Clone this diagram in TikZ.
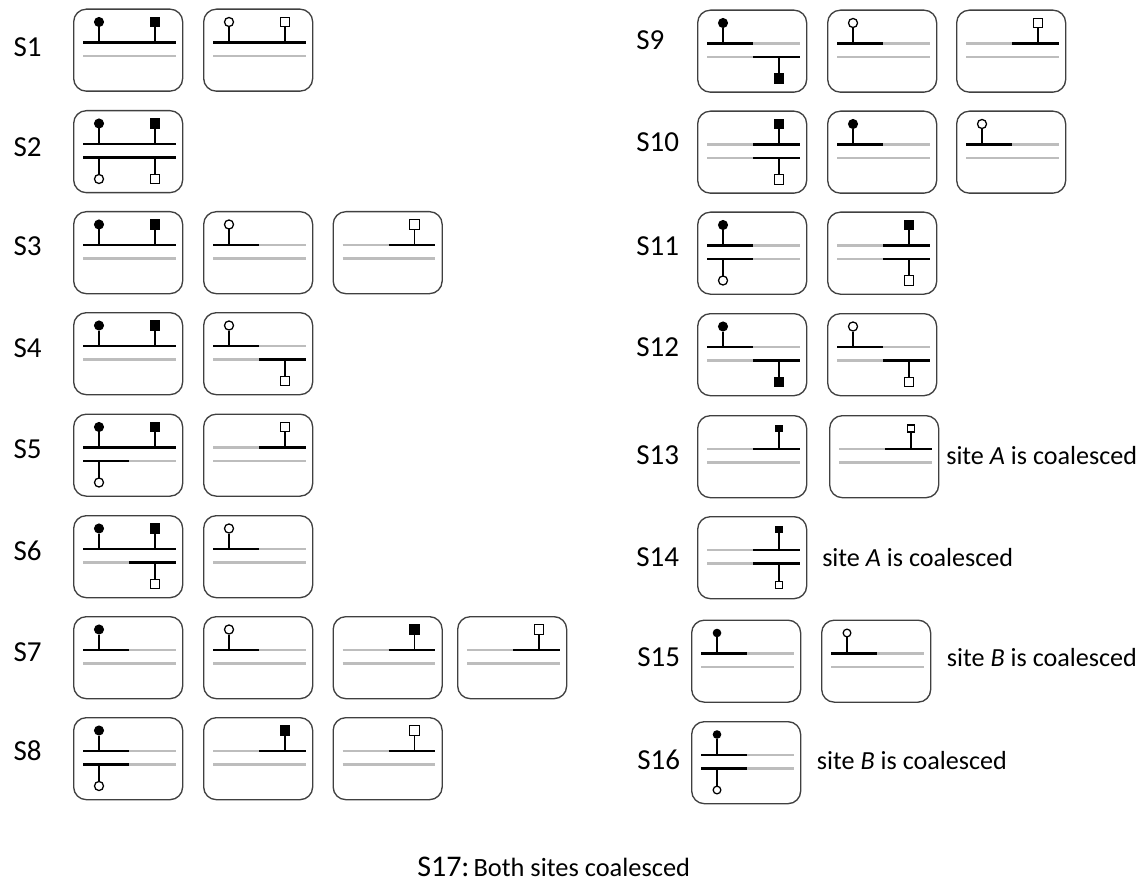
\documentclass[tikz,border=0pt]{standalone}
\usepackage{fontspec}
\setmainfont{Carlito}
\definecolor{boxgray}{HTML}{404040}
\definecolor{chrgray}{HTML}{BDBDBD}

% vertical levels of the two chromosome lines inside a cell
\newcommand\ya{34}
\newcommand\yb{47.5}
% marker size factor
\newcommand\msz{1}

% chromosome lines: full black, full grey, black left half, black right half
\newcommand\chrB[1]{\draw[blk] (10,#1) -- (102.5,#1);}
\newcommand\chrG[1]{\draw[gry] (10,#1) -- (102.5,#1);}
\newcommand\chrL[1]{\draw[gry] (56,#1) -- (102.5,#1); \draw[blk] (10,#1) -- (56,#1);}
\newcommand\chrR[1]{\draw[gry] (10,#1) -- (56,#1); \draw[blk] (56,#1) -- (102.5,#1);}

% marker glyphs
\newcommand\fcirc[2]{\fill[black] (#1,#2) circle[radius=3.8pt*\msz];}
\newcommand\ocirc[2]{\draw[black, line width=0.95pt, fill=white] (#1,#2) circle[radius=3.4pt*\msz];}
\newcommand\fsq[2]{\fill[black] ({#1-5.3*\msz},{#2-5.3*\msz}) rectangle ({#1+5.3*\msz},{#2+5.3*\msz});}
\newcommand\osq[2]{\draw[black, line width=0.95pt, fill=white] ({#1-4.8*\msz},{#2-4.8*\msz}) rectangle ({#1+4.8*\msz},{#2+4.8*\msz});}
% stems from a marker to its chromosome line
\newcommand\stT[1]{\draw[stemline] (#1,{13.5+5*\msz}) -- (#1,\ya);}
\newcommand\stB[1]{\draw[stemline] (#1,\yb) -- (#1,{69-5*\msz});}

% site A (circles) and site B (squares), above the top line or below the bottom line
\newcommand\tFC{\stT{26}\fcirc{26}{13.5}}
\newcommand\tOC{\stT{26}\ocirc{26}{13.5}}
\newcommand\tFS{\stT{82}\fsq{82}{13.5}}
\newcommand\tOS{\stT{82}\osq{82}{13.5}}
\newcommand\bOC{\stB{26}\ocirc{26}{69}}
\newcommand\bFS{\stB{82}\fsq{82}{69}}
\newcommand\bOS{\stB{82}\osq{82}{69}}

% one cell: name, top-left corner, contents
\newcommand\cell[3]{%
  \node[cellbox] (#1) at (#2) {};
  \begin{scope}[shift={(#1.north west)}]#3\end{scope}}

\tikzset{
  cellbox/.style={draw=boxgray, line width=1pt, rounded corners=9.5pt,
    minimum width=81.75pt, minimum height=61.5pt, inner sep=0pt, anchor=north west},
  blk/.style={draw=black, line width=2.1pt},
  gry/.style={draw=chrgray, line width=2pt},
  stemline/.style={draw=black, line width=1.15pt},
  lab/.style={font=\fontsize{21.75}{24}\selectfont, anchor=base west, inner sep=0pt},
  note/.style={font=\fontsize{19.6}{22}\selectfont, anchor=base west, inner sep=0pt},
}

\begin{document}
\begin{tikzpicture}[x=0.75pt, y=-0.75pt]
\path[use as bounding box] (0,0) rectangle (1148,884);

% ---- left column ----
\node[lab] (l1) at (13.3,56.7) {S1};
\cell{s1a}{73,8.5}{\chrB\ya \chrG\yb \tFC \tFS}
\cell{s1b}{203,8.5}{\chrB\ya \chrG\yb \tOC \tOS}

\node[lab] (l2) at (13.3,157) {S2};
\cell{s2a}{73,110}{\chrB\ya \chrB\yb \tFC \tFS \bOC \bOS}

\node[lab] (l3) at (13.3,255) {S3};
\cell{s3a}{73,211}{\chrB\ya \chrG\yb \tFC \tFS}
\cell{s3b}{203,211}{\chrL\ya \chrG\yb \tOC}
\cell{s3c}{332.5,211}{\chrR\ya \chrG\yb \tOS}

\node[lab] (l4) at (13.3,357) {S4};
\cell{s4a}{73,312}{\chrB\ya \chrG\yb \tFC \tFS}
\cell{s4b}{203,312}{\chrL\ya \chrR\yb \tOC \bOS}

\node[lab] (l5) at (13.3,458.5) {S5};
\cell{s5a}{73,413.5}{\chrB\ya \chrL\yb \tFC \tFS \bOC}
\cell{s5b}{203,413.5}{\chrR\ya \chrG\yb \tOS}

\node[lab] (l6) at (13.3,560) {S6};
\cell{s6a}{73,515}{\chrB\ya \chrR\yb \tFC \tFS \bOS}
\cell{s6b}{203,515}{\chrL\ya \chrG\yb \tOC}

\node[lab] (l7) at (13.3,661.5) {S7};
\cell{s7a}{73,616}{\chrL\ya \chrG\yb \tFC}
\cell{s7b}{203,616}{\chrL\ya \chrG\yb \tOC}
\cell{s7c}{332.5,616}{\chrR\ya \chrG\yb \tFS}
\cell{s7d}{457,616}{\chrR\ya \chrG\yb \tOS}

\node[lab] (l8) at (13.3,760) {S8};
\cell{s8a}{73,717}{\chrL\ya \chrL\yb \tFC \bOC}
\cell{s8b}{203,717}{\chrR\ya \chrG\yb \tFS}
\cell{s8c}{332.5,717}{\chrR\ya \chrG\yb \tOS}

% ---- right column ----
\node[lab] (l9) at (636,50) {S9};
\cell{s9a}{697,9.5}{\chrL\ya \chrR\yb \tFC \bFS}
\cell{s9b}{827,9.5}{\chrL\ya \chrG\yb \tOC}
\cell{s9c}{956,9.5}{\chrR\ya \chrG\yb \tOS}

\node[lab] (l10) at (636,151.5) {S10};
\cell{s10a}{697,110.5}{\chrR\ya \chrR\yb \tFS \bOS}
\cell{s10b}{827,110.5}{\chrL\ya \chrG\yb \tFC}
\cell{s10c}{956,110.5}{\chrL\ya \chrG\yb \tOC}

\node[lab] (l11) at (636,255) {S11};
\cell{s11a}{697,211.5}{\chrL\ya \chrL\yb \tFC \bOC}
\cell{s11b}{827,211.5}{\chrR\ya \chrR\yb \tFS \bOS}

\node[lab] (l12) at (636,356.5) {S12};
\cell{s12a}{697,313}{\chrL\ya \chrR\yb \tFC \bFS}
\cell{s12b}{827,313}{\chrL\ya \chrR\yb \tOC \bOS}

\node[lab] (l13) at (636,464) {S13};
\cell{s13a}{697,415}{\renewcommand\msz{0.75}\chrR\ya \chrG\yb \tFS}
\cell{s13b}{829,415}{\renewcommand\msz{0.75}\chrR\ya \chrG\yb \tOS}
\node[note] (n13) at (946,464) {site \textit{A} is coalesced};

\node[lab] (l14) at (636,566) {S14};
\cell{s14a}{697,516}{\renewcommand\msz{0.75}\chrR\ya \chrR\yb \tFS \bOS}
\node[note] (n14) at (822,566) {site \textit{A} is coalesced};

\node[lab] (l15) at (637,666.5) {S15};
\cell{s15a}{691,619.5}{\renewcommand\msz{0.85}\chrL\ya \chrG\yb \tFC}
\cell{s15b}{821,619.5}{\renewcommand\msz{0.85}\chrL\ya \chrG\yb \tOC}
\node[note] (n15) at (946.7,666.5) {site \textit{B} is coalesced};

\node[lab] (l16) at (637,769.5) {S16};
\cell{s16a}{691,721}{\renewcommand\msz{0.85}\chrL\ya \chrL\yb \tFC \bOC}
\node[note] (n16) at (816.7,769.5) {site \textit{B} is coalesced};

% ---- footer ----
\node[anchor=base west, inner sep=0pt] (l17) at (417,876.7)
  {{\fontsize{22.5}{26}\selectfont S17:} {\fontsize{19.8}{22}\selectfont Both sites coalesced}};
\end{tikzpicture}
\end{document}
